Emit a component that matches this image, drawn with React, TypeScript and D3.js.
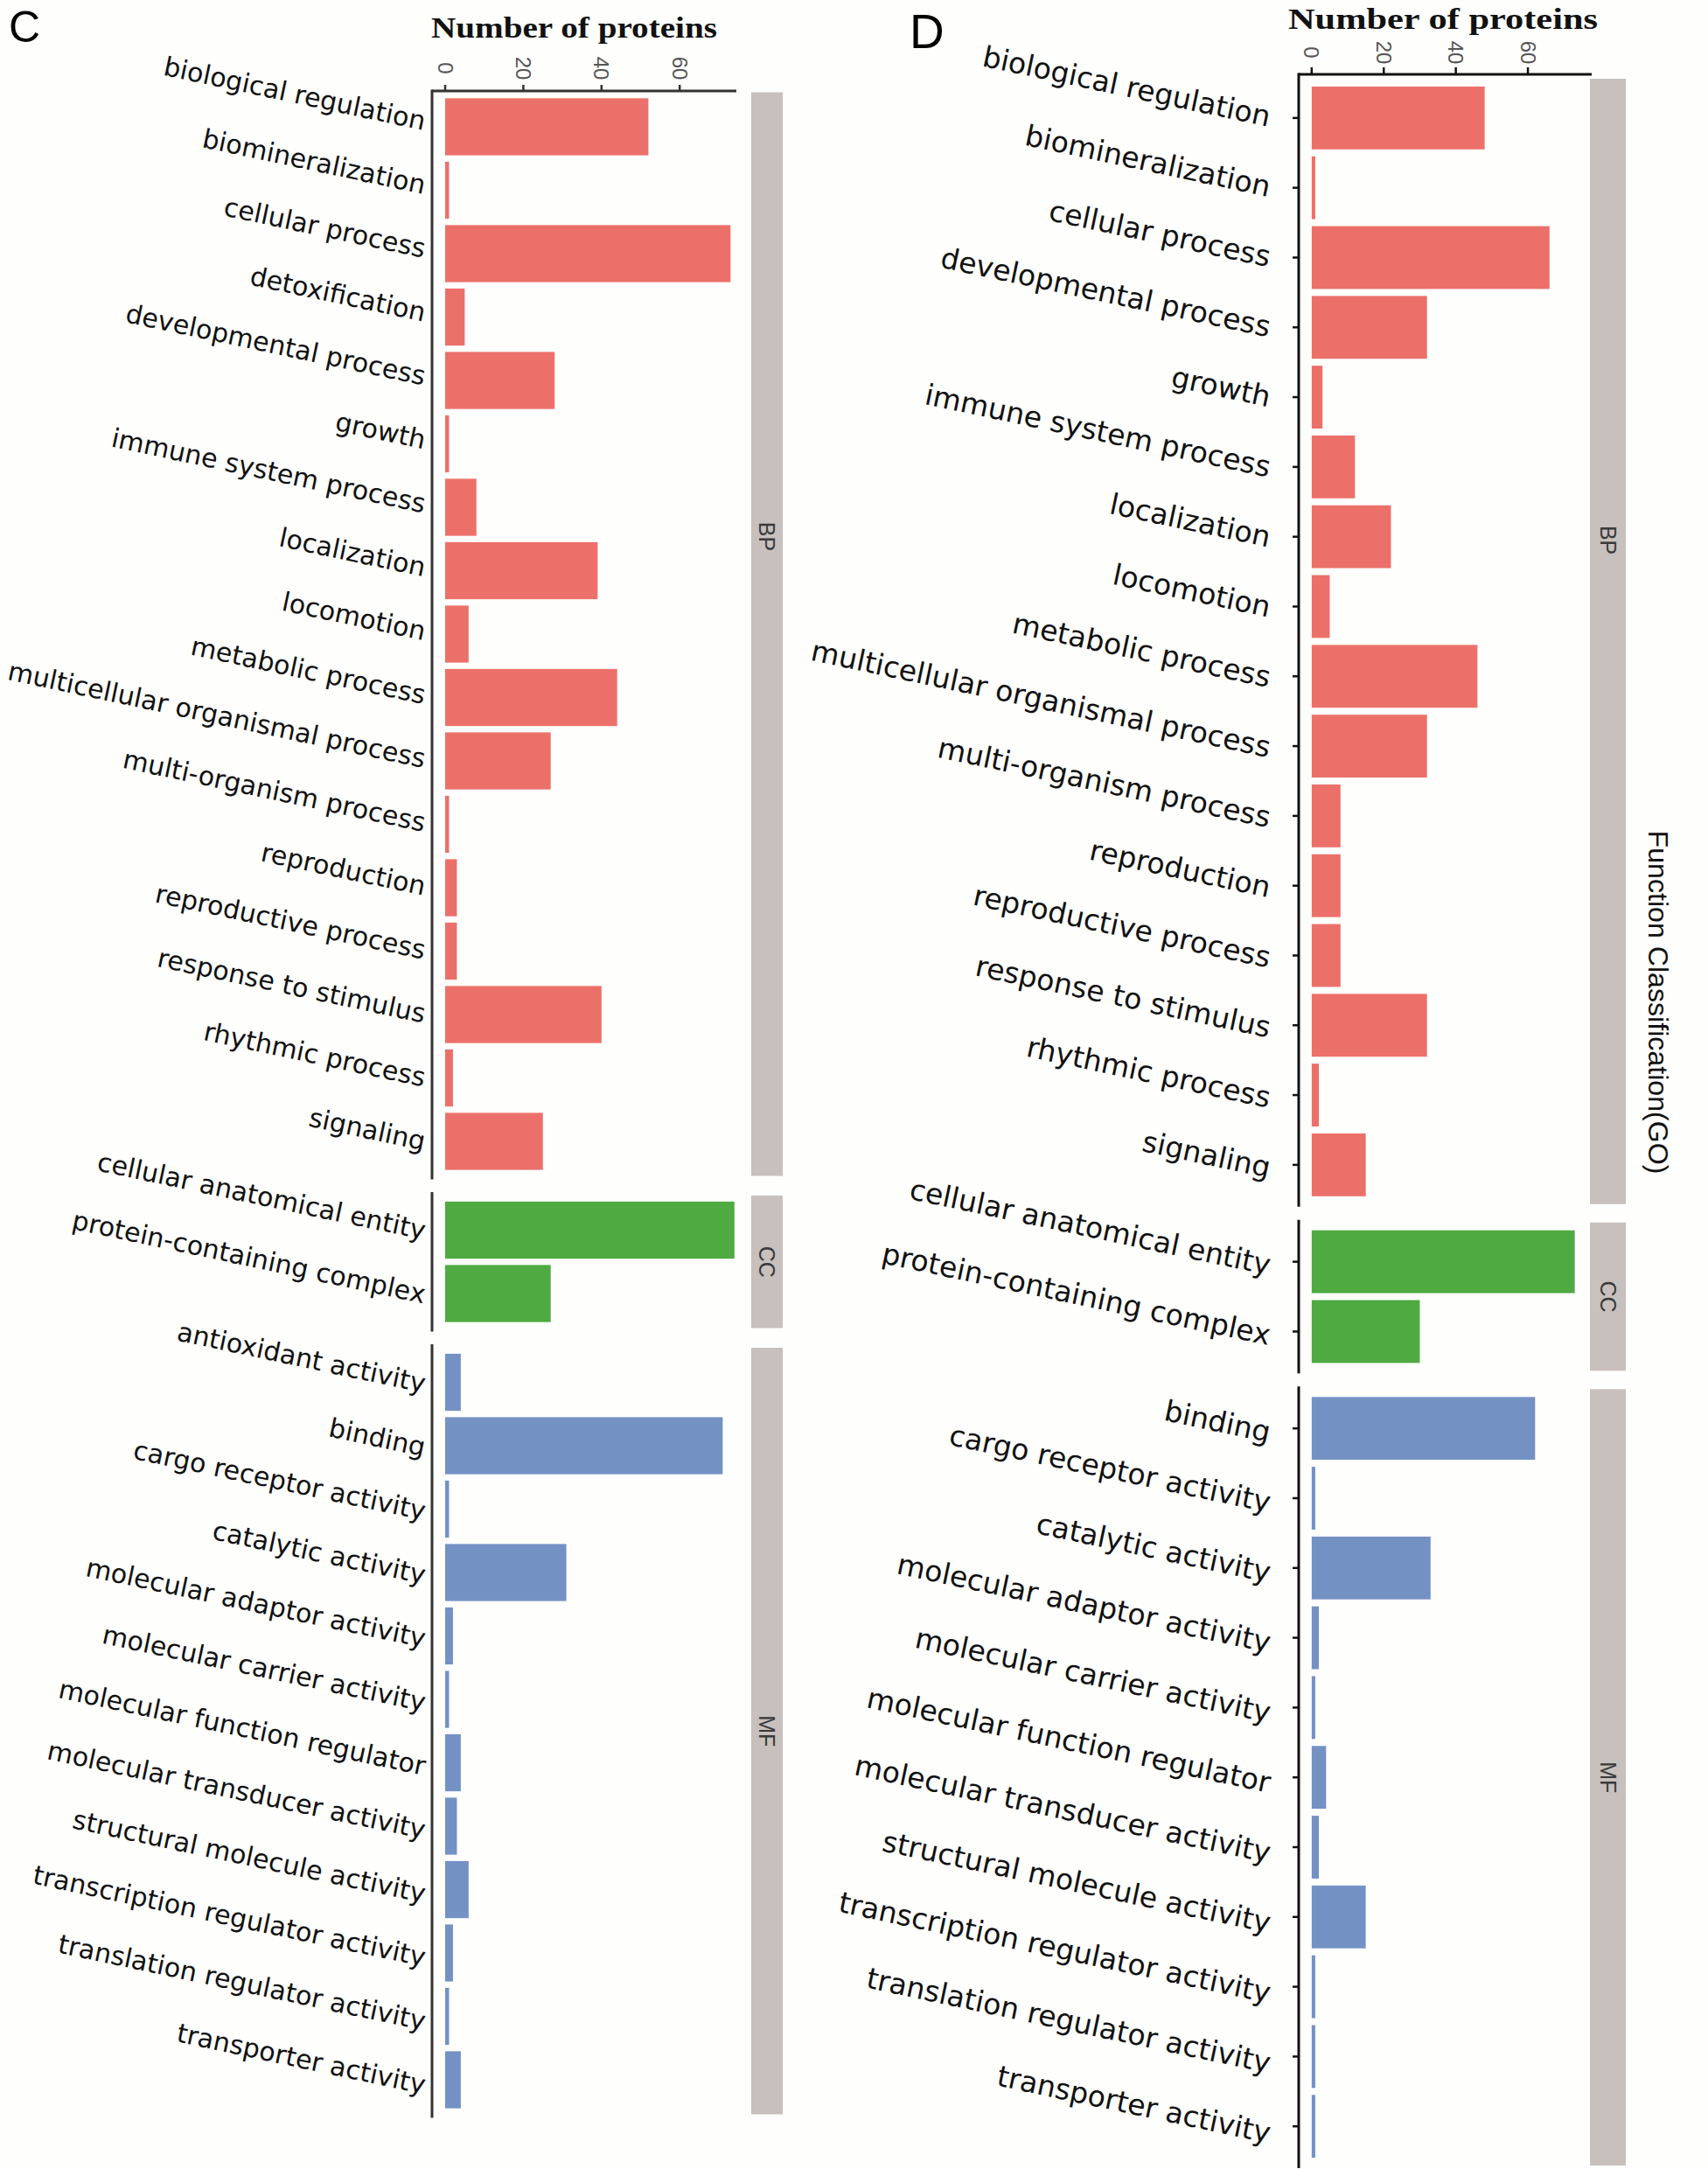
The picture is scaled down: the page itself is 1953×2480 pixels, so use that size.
import React from "react";
import * as d3 from "d3";

// ---------------- DATA ----------------
const BP_C = [
  "biological regulation", "biomineralization", "cellular process", "detoxification",
  "developmental process", "growth", "immune system process", "localization", "locomotion",
  "metabolic process", "multicellular organismal process", "multi-organism process",
  "reproduction", "reproductive process", "response to stimulus", "rhythmic process", "signaling",
];
const BP_C_N = [52, 1, 73, 5, 28, 1, 8, 39, 6, 44, 27, 1, 3, 3, 40, 2, 25];

const CC_C = ["cellular anatomical entity", "protein-containing complex"];
const CC_C_N = [74, 27];

const MF_C = [
  "antioxidant activity", "binding", "cargo receptor activity", "catalytic activity",
  "molecular adaptor activity", "molecular carrier activity", "molecular function regulator",
  "molecular transducer activity", "structural molecule activity",
  "transcription regulator activity", "translation regulator activity", "transporter activity",
];
const MF_C_N = [4, 71, 1, 31, 2, 1, 4, 3, 6, 2, 1, 4];

const BP_D = [
  "biological regulation", "biomineralization", "cellular process", "developmental process",
  "growth", "immune system process", "localization", "locomotion", "metabolic process",
  "multicellular organismal process", "multi-organism process", "reproduction",
  "reproductive process", "response to stimulus", "rhythmic process", "signaling",
];
const BP_D_N = [48, 1, 66, 32, 3, 12, 22, 5, 46, 32, 8, 8, 8, 32, 2, 15];

const CC_D = ["cellular anatomical entity", "protein-containing complex"];
const CC_D_N = [73, 30];

const MF_D = [
  "binding", "cargo receptor activity", "catalytic activity", "molecular adaptor activity",
  "molecular carrier activity", "molecular function regulator", "molecular transducer activity",
  "structural molecule activity", "transcription regulator activity",
  "translation regulator activity", "transporter activity",
];
const MF_D_N = [62, 1, 33, 2, 1, 4, 2, 15, 1, 1, 1];

const GROUPS = ["BP", "CC", "MF"];
const GROUP_COLORS = ["#EC706A", "#4EAA41", "#7491C4"];
const TITLE = "Number of proteins";
const SIDE_TITLE = "Function Classification(GO)";

// ---------------- LAYOUT ----------------
type PanelCfg = {
  letter: string; letterX: number; letterY: number; letterSize: number;
  cats: string[][]; vals: number[][];
  x0: number; x1: number; dom: [number, number];
  top: number; step: number; gap: number;
  axisY: number; tickLen: number; tickLabelY: number;
  titleX: number; titleY: number; titleW: number;
  labelEndX: number; labelSize: number; labelDy0: number; labelDrift: number;
  stripX: number; stripW: number; stripInset: number;
  yTicks: boolean; axisColor: string;
};

const PANELS: PanelCfg[] = [
  {
    letter: "C", letterX: 10, letterY: 48, letterSize: 50,
    cats: [BP_C, CC_C, MF_C], vals: [BP_C_N, CC_C_N, MF_C_N],
    x0: 494, x1: 842, dom: [-3.36, 74.5],
    top: 101.5, step: 72.5, gap: 14.5,
    axisY: 104, tickLen: 7, tickLabelY: 78,
    titleX: 493, titleY: 43, titleW: 327,
    labelEndX: 484, labelSize: 30, labelDy0: 4, labelDrift: 0.0055,
    stripX: 859, stripW: 36, stripInset: 4,
    yTicks: false, axisColor: "#333",
  },
  {
    letter: "D", letterX: 1040, letterY: 55, letterSize: 55,
    cats: [BP_D, CC_D, MF_D], vals: [BP_D_N, CC_D_N, MF_D_N],
    x0: 1485, x1: 1820, dom: [-3.6, 77.7],
    top: 87, step: 79.8, gap: 15,
    axisY: 85, tickLen: 8, tickLabelY: 60,
    titleX: 1473, titleY: 33, titleW: 354,
    labelEndX: 1450, labelSize: 33, labelDy0: 10, labelDrift: 0.004,
    stripX: 1818, stripW: 41, stripInset: 3,
    yTicks: true, axisColor: "#111",
  },
];

function Panel({ p }: { p: PanelCfg }) {
  const x = d3.scaleLinear().domain(p.dom).range([p.x0, p.x1]);
  const ticks = x.ticks(4).filter((t) => t >= 0);
  let cursor = p.top;
  const facets = p.cats.map((cats, gi) => {
    const h = (cats.length + 0.2) * p.step;
    const y = d3.scaleBand<string>().domain(cats).range([cursor, cursor + h])
      .paddingInner(0.1).paddingOuter(0.15);
    const f = { cats, vals: p.vals[gi], y, top: cursor, bottom: cursor + h, gi };
    cursor += h + p.gap;
    return f;
  });
  const firstCenter = p.top + 0.6 * p.step;
  return (
    <g>
      <text x={p.letterX} y={p.letterY} fontFamily="Liberation Sans, Arial, sans-serif"
        fontSize={p.letterSize} fill="#000">{p.letter}</text>
      <text x={p.titleX} y={p.titleY} fontFamily="Liberation Serif, Times New Roman, serif"
        fontWeight="bold" fontSize={33} textLength={p.titleW} lengthAdjust="spacingAndGlyphs"
        fill="#111">{TITLE}</text>
      {/* top x axis */}
      <line x1={p.x0} x2={p.x1} y1={p.axisY} y2={p.axisY} stroke={p.axisColor} strokeWidth={3} />
      {ticks.map((t) => (
        <g key={t}>
          <line x1={x(t)} x2={x(t)} y1={p.axisY - p.tickLen} y2={p.axisY} stroke={p.axisColor} strokeWidth={2.5} />
          <text transform={`translate(${x(t)},${p.tickLabelY}) rotate(90)`} textAnchor="middle"
            dominantBaseline="central" fontFamily="Liberation Sans, Arial, sans-serif"
            fontSize={24} fill="#555">{t}</text>
        </g>
      ))}
      {facets.map((f) => {
        const stripTop = f.top + p.stripInset;
        const stripBot = f.bottom - p.stripInset;
        const labelY = f.gi === 0 ? stripTop + 0.41 * (stripBot - stripTop) : (stripTop + stripBot) / 2;
        return (
          <g key={f.gi}>
            <line x1={p.x0} x2={p.x0} y1={f.gi === 0 ? p.axisY - 1.5 : f.top} y2={f.bottom}
              stroke={p.axisColor} strokeWidth={3} />
            {f.cats.map((c, i) => {
              const yb = f.y(c) as number;
              const bw = f.y.bandwidth();
              const cy = yb + bw / 2;
              const ly = cy + p.labelDy0 + p.labelDrift * (cy - firstCenter);
              return (
                <g key={c}>
                  <rect x={x(0)} y={yb} width={x(f.vals[i]) - x(0)} height={bw}
                    fill={GROUP_COLORS[f.gi]} />
                  {p.yTicks && (
                    <line x1={p.x0 - 7} x2={p.x0} y1={cy} y2={cy} stroke={p.axisColor} strokeWidth={2.5} />
                  )}
                  <text transform={`translate(${p.labelEndX},${ly}) rotate(12)`} textAnchor="end"
                    fontFamily="DejaVu Sans, Verdana, sans-serif" fontSize={p.labelSize} fill="#111">{c}</text>
                </g>
              );
            })}
            <rect x={p.stripX} y={stripTop} width={p.stripW} height={stripBot - stripTop} fill="#C7C0BC" />
            <text transform={`translate(${p.stripX + p.stripW / 2},${labelY}) rotate(90)`} textAnchor="middle"
              dominantBaseline="central" fontFamily="Liberation Sans, Arial, sans-serif" fontSize={25}
              fill="#3a3a3a">{GROUPS[f.gi]}</text>
          </g>
        );
      })}
    </g>
  );
}

export default function App() {
  return (
    <svg width={1953} height={2480} style={{ position: "absolute", left: 0, top: 0 }}
      xmlns="http://www.w3.org/2000/svg">
      <rect x={0} y={0} width={1953} height={2480} fill="#fefefd" />
      {PANELS.map((p) => <Panel key={p.letter} p={p} />)}
      <text transform={`translate(1895,1146) rotate(90)`} textAnchor="middle" dominantBaseline="central"
        fontFamily="Liberation Sans, Arial, sans-serif" fontSize={31} textLength={393}
        lengthAdjust="spacingAndGlyphs" fill="#111">{SIDE_TITLE}</text>
    </svg>
  );
}
